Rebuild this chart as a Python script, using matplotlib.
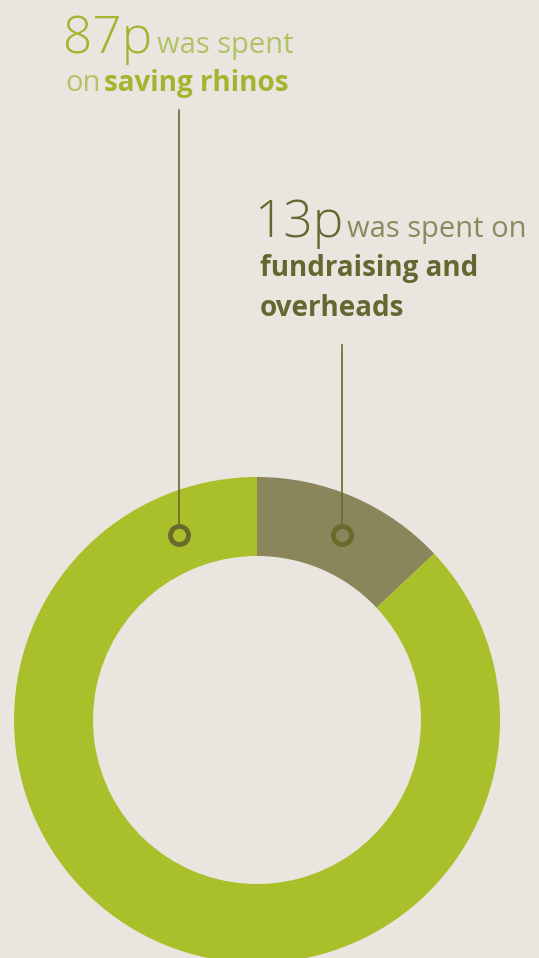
import matplotlib.pyplot as plt

# spend split, pence per pound
labels = ["fundraising and overheads", "saving rhinos"]
pence = [13, 87]
slice_colors = ["#8a855a", "#a9c02a"]

bg = "#e8e6df"
line_col = "#6b6a2c"
W, H = 539, 958

fig = plt.figure(figsize=(W / 100, H / 100), dpi=100, facecolor=bg)
ax = fig.add_axes([0, 0, 1, 1])
ax.set_facecolor(bg)

ax.pie(pence, colors=slice_colors, startangle=90, counterclock=False,
       radius=243, center=(257, H - 720),
       wedgeprops=dict(width=79, linewidth=0))
ax.set_xlim(0, W)
ax.set_ylim(0, H)
ax.set_aspect("equal")
ax.axis("off")

def py(y):
    return H - y

# leader lines with ring markers
for x, top in [(179, 110), (342, 345)]:
    ax.plot([x, x], [py(top), py(527)], color=line_col, lw=1.2)
    ax.plot(x, py(535), "o", ms=13, mfc="none", mec=line_col, mew=3.5)

fam = ["Open Sans", "DejaVu Sans"]
green = "#a3b52e"
green_lt = "#b3c264"
olive = "#666630"
olive_lt = "#8b8a5e"

# 87p label
ax.text(63, py(53), "87p", fontsize=37, color=green, family=fam, weight="light", va="baseline")
ax.text(157, py(53), "was spent", fontsize=21, color=green_lt, family=fam, va="baseline")
ax.text(65, py(91), "on", fontsize=21, color=green_lt, family=fam, va="baseline")
ax.text(104, py(91), "saving rhinos", fontsize=20, color=green, family=fam, weight="bold", va="baseline")

# 13p label
ax.text(254, py(237), "13p", fontsize=37, color=olive, family=fam, weight="light", va="baseline")
ax.text(347, py(237), "was spent on", fontsize=21, color=olive_lt, family=fam, va="baseline")
ax.text(260, py(276), "fundraising and", fontsize=20, color=olive, family=fam, weight="bold", va="baseline")
ax.text(260, py(316), "overheads", fontsize=20, color=olive, family=fam, weight="bold", va="baseline")

fig.savefig("out.png", dpi=100, facecolor=bg)
